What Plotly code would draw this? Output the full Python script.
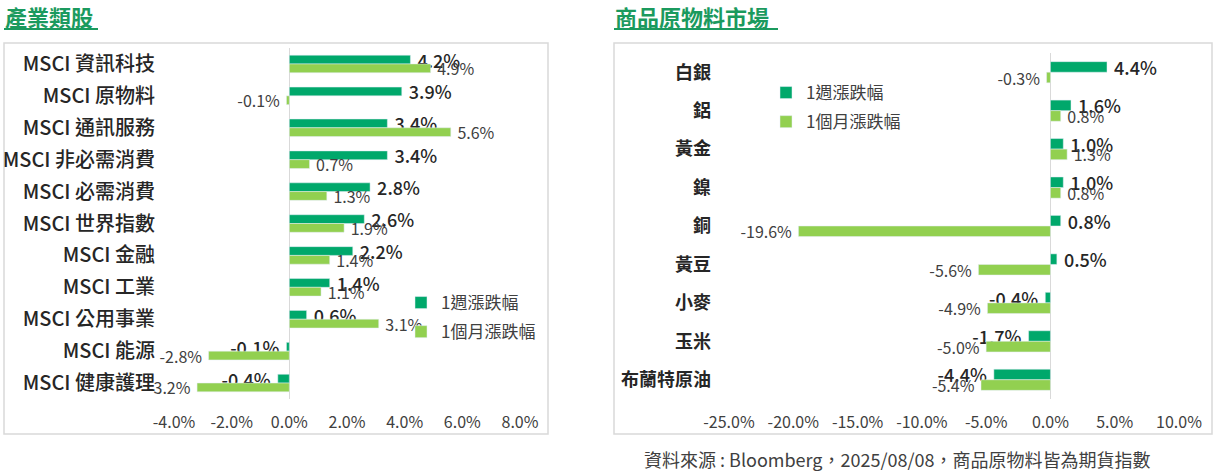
import plotly.graph_objects as go

# 產業類股 (left panel)
sectors = ["MSCI 資訊科技", "MSCI 原物料", "MSCI 通訊服務", "MSCI 非必需消費", "MSCI 必需消費",
           "MSCI 世界指數", "MSCI 金融", "MSCI 工業", "MSCI 公用事業", "MSCI 能源", "MSCI 健康護理"]
sector_week = [4.2, 3.9, 3.4, 3.4, 2.8, 2.6, 2.2, 1.4, 0.6, -0.1, -0.4]
sector_month = [4.9, -0.1, 5.6, 0.7, 1.3, 1.9, 1.4, 1.1, 3.1, -2.8, -3.2]
sector_ticks = [-4, -2, 0, 2, 4, 6, 8]

# 商品原物料市場 (right panel)
commodities = ["白銀", "鋁", "黃金", "鎳", "銅", "黃豆", "小麥", "玉米", "布蘭特原油"]
comm_week = [4.4, 1.6, 1.0, 1.0, 0.8, 0.5, -0.4, -1.7, -4.4]
comm_month = [-0.3, 0.8, 1.3, 0.8, -19.6, -5.6, -4.9, -5.0, -5.4]
comm_ticks = [-25, -20, -15, -10, -5, 0, 5, 10]

series_names = ["1週漲跌幅", "1個月漲跌幅"]

W, H = 1215, 471
FONT = "Noto Sans CJK TC"
C_WEEK = "#00A86B"
C_MONTH = "#92D050"
C_TITLE = "#1B9A5E"
NB = "\u00a0"


def px(x):
    return x / W


def py(y):
    return 1 - y / H


def pct(v):
    return f"{v:.1f}%"


def bar_labels(vals):
    # a little extra room between the bar end and its label, like the original
    return [NB + pct(v) if v >= 0 else pct(v) + NB for v in vals]


fig = go.Figure()

panels = [
    (sectors, sector_week, sector_month, "x", "y", "legend"),
    (commodities, comm_week, comm_month, "x2", "y2", "legend2"),
]
for cats, week, month, xa, ya, lg in panels:
    fig.add_trace(go.Bar(
        y=cats, x=week, orientation="h", name=series_names[0],
        marker_color=C_WEEK, xaxis=xa, yaxis=ya, legend=lg, legendgroup="w" + lg,
        text=bar_labels(week), textposition="outside", constraintext="none",
        cliponaxis=False, textfont=dict(size=18, color="#262626", family=FONT, weight=500),
    ))
    fig.add_trace(go.Bar(
        y=cats, x=month, orientation="h", name=series_names[1],
        marker_color=C_MONTH, xaxis=xa, yaxis=ya, legend=lg, legendgroup="m" + lg,
        text=bar_labels(month), textposition="outside", constraintext="none",
        cliponaxis=False, textfont=dict(size=16, color="#404040", family=FONT),
    ))

axis_common = dict(showgrid=False, showline=False, ticks="", tickmode="array",
                   zeroline=True, zerolinecolor="#D9D9D9", zerolinewidth=1, automargin=False,
                   tickfont=dict(size=16, color="#404040", family=FONT), ticklabelstandoff=12)
cat_common = dict(autorange="reversed", showgrid=False, showline=False, ticks="", automargin=False)

fig.update_layout(
    width=W, height=H, autosize=False,
    margin=dict(l=0, r=0, t=0, b=0, autoexpand=False),
    paper_bgcolor="white", plot_bgcolor="white",
    barmode="group", bargap=0.45,
    font=dict(family=FONT, color="#404040"),
    xaxis=dict(domain=[px(174), px(520)], range=[-4, 8], anchor="y",
               tickvals=sector_ticks, ticktext=[pct(t) for t in sector_ticks], **axis_common),
    yaxis=dict(domain=[py(399), py(48)], anchor="x", ticklabelstandoff=18,
               tickfont=dict(size=20, color="#262626", family=FONT, weight=500), **cat_common),
    xaxis2=dict(domain=[px(729), px(1179)], range=[-25, 10], anchor="y2",
                tickvals=comm_ticks, ticktext=[pct(t) for t in comm_ticks], **axis_common),
    yaxis2=dict(domain=[py(399), py(53)], anchor="x2", ticklabelstandoff=17,
                tickfont=dict(size=18, color="#262626", family=FONT, weight=600), **cat_common),
    legend=dict(x=px(401), y=py(285), xanchor="left", yanchor="top", bgcolor="rgba(0,0,0,0)",
                font=dict(size=17, color="#404040", family=FONT), tracegroupgap=4,
                traceorder="grouped"),
    legend2=dict(x=px(766), y=py(75), xanchor="left", yanchor="top", bgcolor="rgba(0,0,0,0)",
                 font=dict(size=17, color="#404040", family=FONT), tracegroupgap=4,
                 traceorder="grouped"),
)

# panel frames and title underlines
fig.add_shape(type="rect", xref="paper", yref="paper", x0=px(4), x1=px(548), y0=py(434), y1=py(43),
              line=dict(color="#D9D9D9", width=1.5), layer="below")
fig.add_shape(type="rect", xref="paper", yref="paper", x0=px(614), x1=px(1212), y0=py(434), y1=py(43),
              line=dict(color="#D9D9D9", width=1.5), layer="below")
fig.add_shape(type="line", xref="paper", yref="paper", x0=px(4), x1=px(98), y0=py(29), y1=py(29),
              line=dict(color=C_TITLE, width=2))
fig.add_shape(type="line", xref="paper", yref="paper", x0=px(614), x1=px(778), y0=py(29), y1=py(29),
              line=dict(color=C_TITLE, width=2))

fig.add_annotation(text="<b>產業類股</b>", x=px(3), y=py(16), xref="paper", yref="paper",
                   xanchor="left", yanchor="middle", showarrow=False,
                   font=dict(size=22, color=C_TITLE, family=FONT))
fig.add_annotation(text="<b>商品原物料市場</b>", x=px(613), y=py(16), xref="paper", yref="paper",
                   xanchor="left", yanchor="middle", showarrow=False,
                   font=dict(size=22, color=C_TITLE, family=FONT))
fig.add_annotation(text="資料來源 : Bloomberg，2025/08/08，商品原物料皆為期貨指數",
                   x=px(897), y=py(459), xref="paper", yref="paper",
                   xanchor="center", yanchor="middle", showarrow=False,
                   font=dict(size=18, color="#404040", family=FONT))

# drop the default page margin so the figure fills the window
fig.write_html("out.html", config={"displayModeBar": False},
               post_script="document.body.style.margin='0';")
